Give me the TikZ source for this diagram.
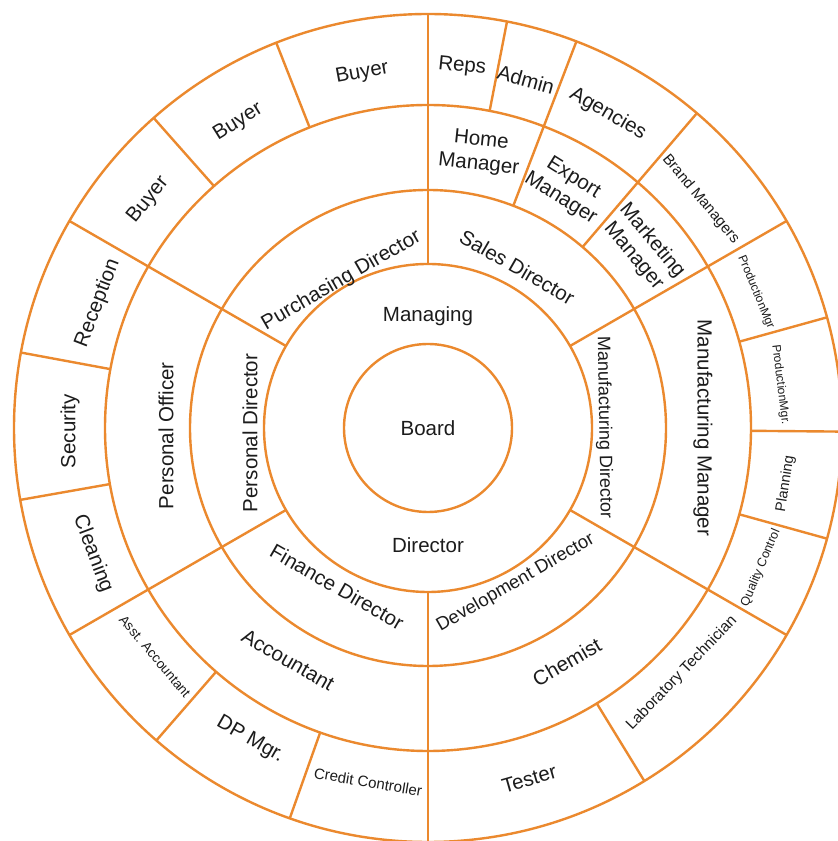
\documentclass[tikz,border=0pt]{standalone}
\usepackage{fontspec}
\setmainfont{Liberation Sans}
\definecolor{ring}{RGB}{235,137,46}
\definecolor{ink}{RGB}{28,28,28}
\begin{document}
\begin{tikzpicture}[x=1pt,y=1pt,
  ringline/.style={draw=ring,line width=2.4pt},
  lbl/.style={text=ink,font=\fontsize{20.5}{24}\selectfont,inner sep=0pt,align=center},
  sml/.style={text=ink,inner sep=0pt,font=\fontsize{#1}{#1}\selectfont}]
\useasboundingbox (0,0) rectangle (838,841);
\fill[white] (0,0) rectangle (838,841);
\begin{scope}[shift={(428,413)}]
% rings
\foreach \r in {84,164,238,323,414} \draw[ringline] (0,0) circle (\r);
% radial dividers
\foreach \a in {30,90,150,210,270,330} \draw[ringline] (\a:164) -- (\a:414);
\foreach \a in {69,49.5} \draw[ringline] (\a:238) -- (\a:414);
\foreach \a in {79,111.5,131.5,169.5,190,229,250.5,301.5,344.5,-0.5,15.5}
  \draw[ringline] (\a:323) -- (\a:414);
% centre
\node[lbl] (board) at (0,0) {Board};
\node[lbl] (mdtop) at (0,112) {Managing};
\node[lbl] (mdbot) at (0,-117) {Director};
% ring 2
\node[lbl,rotate=30]  (purch) at (120.4:171) {Purchasing Director};
\node[lbl,rotate=-30] (sales) at (61:184) {Sales Director};
\node[lbl,rotate=90]  (persd) at (181.6:178) {Personal Director};
\node[lbl,rotate=-30] (fin)   at (240.2:183) {Finance Director};
\node[sml=18.5,rotate=30]  (dev)   at (-60.5:178) {Development Director};
\node[sml=18,rotate=-89] (manud) at (0.3:176) {Manufacturing Director};
% ring 3
\node[lbl,rotate=90]  (perso) at (181.7:262) {Personal Officer};
\node[lbl,rotate=-30] (acc)   at (238.9:271) {Accountant};
\node[lbl,rotate=30]  (chem)  at (-59.3:272) {Chemist};
\node[lbl,rotate=-90] (manum) at (0:275) {Manufacturing Manager};
\node[lbl,rotate=-6]  (home)  at (79.3:280) {Home\\Manager};
\node[lbl,rotate=-32] (exp)   at (59.9:277) {Export\\Manager};
\node[lbl,rotate=-50] (mkt)   at (39.9:280) {Marketing\\Manager};
% ring 4
\node[lbl,rotate=10.5] (buy1) at (100.5:361) {Buyer};
\node[lbl,rotate=32]   (buy2) at (121.8:360) {Buyer};
\node[lbl,rotate=51]   (buy3) at (140.8:361) {Buyer};
\node[lbl,rotate=69]   (recp) at (159.3:353) {Reception};
\node[lbl,rotate=90]   (secu) at (180.5:358) {Security};
\node[lbl,rotate=-69.4] (clean) at (200.6:358) {Cleaning};
\node[sml=13.5,rotate=-50] (asst) at (219.9:356) {Asst. Accountant};
\node[lbl,rotate=-29.7] (dp) at (240.3:359) {DP Mgr.};
\node[sml=15,rotate=-9.6] (credit) at (260.4:359) {Credit Controller};
\node[lbl,rotate=16]  (test) at (-73.9:365) {Tester};
\node[sml=15.5,rotate=46] (lab) at (-44:353) {Laboratory Technician};
\node[sml=12.5,rotate=67] (qc) at (-22.8:361) {Quality Control};
\node[sml=14.5,rotate=81] (plan) at (-8.9:362) {Planning};
\node[sml=12,rotate=-83] (prod1) at (7:355) {ProductionMgr.};
\node[sml=12,rotate=-67.5] (prod2) at (22.5:355) {ProductionMgr};
\node[sml=15,rotate=-50] (brand) at (40:356) {Brand Managers};
\node[lbl,rotate=-30] (agen) at (60.2:362) {Agencies};
\node[lbl,rotate=-15.7] (admin) at (74.3:362) {Admin};
\node[lbl,rotate=-6] (reps) at (84.6:363) {Reps};
\end{scope}
\end{tikzpicture}
\end{document}
